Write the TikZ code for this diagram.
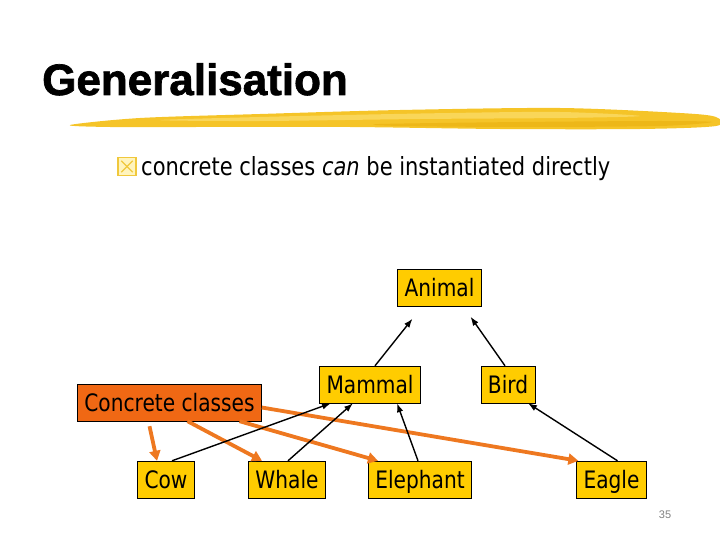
\documentclass[tikz,border=0pt]{standalone}
\usepackage{fontspec}
\setmainfont{DejaVu Sans}[FakeStretch=0.84]
\newfontfamily\titlefont{Liberation Sans}[BoldFeatures={FakeBold=1.6}]
\usetikzlibrary{arrows, arrows.meta}

\definecolor{boxyellow}{RGB}{255,204,0}
\definecolor{concorange}{RGB}{240,104,20}
\definecolor{pickorange}{RGB}{238,120,32}
\definecolor{brushyellow}{RGB}{245,196,40}
\definecolor{brushlight}{RGB}{252,222,110}
\definecolor{brushdark}{RGB}{236,180,20}
\definecolor{bulletyellow}{RGB}{240,200,60}
\definecolor{bulletfill}{RGB}{255,244,190}

\begin{document}
\begin{tikzpicture}[x=1pt,y=-1pt,
		classbox/.style={draw,fill=boxyellow,minimum height=37pt,inner xsep=7pt,inner ysep=0pt,
			text height=20pt,text depth=3pt,font=\fontsize{24}{28}\selectfont},
		concbox/.style={classbox,fill=concorange},
		isa/.style={-{Latex[length=9pt,width=6.5pt]},line width=1.4pt},
		pick/.style={-{Triangle[length=10pt,width=11pt]},line width=3.8pt,draw=pickorange}
		]
		\useasboundingbox (0,0) rectangle (720,540);

		% heading and brush stroke
		\node[anchor=base west,inner sep=0,font=\titlefont\bfseries\fontsize{44}{50}\selectfont] (title) at (42,95) {Generalisation};
		\fill[brushyellow] plot[smooth cycle] coordinates {(70,125) (140,118) (260,114) (400,110) (560,108) (680,113) (716,117) (716,126) (640,129) (500,129) (350,127) (200,127) (110,127)};
		\fill[brushlight,opacity=0.7] plot[smooth cycle] coordinates {(160,120) (300,116) (450,113) (560,112) (640,116) (560,118) (420,119) (260,121)};
		\fill[brushdark,opacity=0.8] plot[smooth cycle] coordinates {(380,124) (520,122) (660,121) (712,122) (660,126) (520,127) (400,126)};

		% bullet line
		\node[draw=bulletyellow,fill=bulletfill,line width=1.4pt,minimum size=18pt,inner sep=0] (bul) at (127,166.5) {};
		\draw[bulletyellow,line width=1.1pt] ([shift={(4pt,4pt)}]bul.south west) -- ([shift={(-4pt,-4pt)}]bul.north east);
		\draw[bulletyellow,line width=1.1pt] ([shift={(4pt,-4pt)}]bul.north west) -- ([shift={(-4pt,4pt)}]bul.south east);
		\node[anchor=base west,inner sep=0,font=\fontsize{25}{30}\selectfont] (txt) at (141,176) {concrete classes \emph{can} be instantiated directly};

		% classes
		\node[classbox] (Anim) at (439.5,288) {Animal};
		\node[classbox] (Mamm) at (370,384.5) {Mammal};
		\node[classbox] (Bird) at (508,384.5) {Bird};
		\node[classbox] (Cow) at (166,479.5) {Cow};
		\node[classbox] (Whale) at (287,479.5) {Whale};
		\node[classbox] (Eleph) at (420,479.5) {Elephant};
		\node[classbox] (Eagle) at (611.5,479.5) {Eagle};
		\node[concbox] (Conc) at (169.5,402.5) {Concrete classes};

		% concrete classes
		\draw[pick] ([xshift=-20pt,yshift=-5pt]Conc.south) -- ([xshift=-9pt]Cow.north);
		\draw[pick] ([xshift=18pt]Conc.south) -- ([xshift=-25pt]Whale.north);
		\draw[pick] ([xshift=70pt]Conc.south) -- ([xshift=-42pt]Eleph.north);
		\draw[pick] ([yshift=-5pt]Conc.east) -- ([xshift=2pt]Eagle.north west);

		% generalisation arrows
		\draw[isa] ([xshift=5pt]Mamm.north) -- ([xshift=-27pt,yshift=-12pt]Anim.south);
		\draw[isa] ([xshift=-3pt]Bird.north) -- ([xshift=31pt,yshift=-10pt]Anim.south);
		\draw[isa] ([xshift=6pt]Cow.north) -- ([xshift=-39pt]Mamm.south);
		\draw[isa] ([xshift=1pt]Whale.north) -- ([xshift=-17pt]Mamm.south);
		\draw[isa] ([xshift=-2pt]Eleph.north) -- ([xshift=27pt]Mamm.south);
		\draw[isa] ([xshift=6pt]Eagle.north) -- ([xshift=20pt]Bird.south);

		\node[text=gray,font=\titlefont\fontsize{11}{13}\selectfont] (pg) at (665,515) {35};

	\end{tikzpicture}
\end{document}
